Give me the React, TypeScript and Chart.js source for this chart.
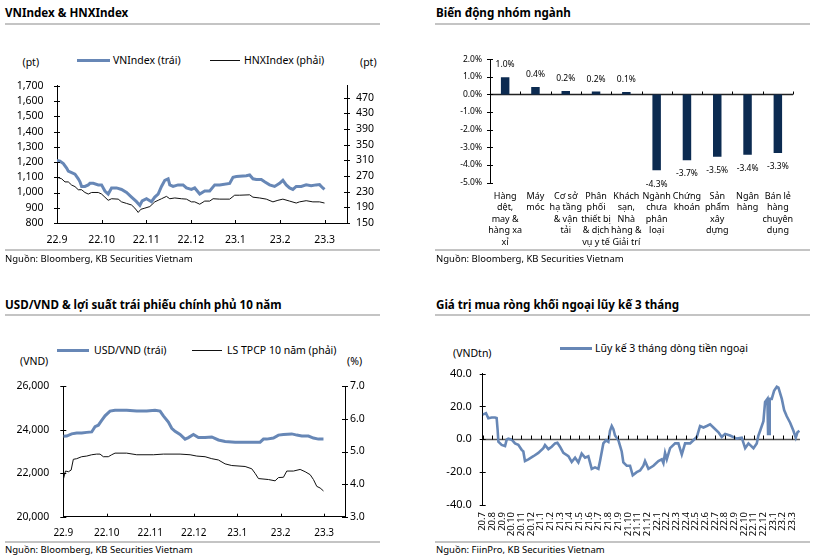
import React, { useEffect, useRef } from 'react';
import { Chart, registerables } from 'chart.js';

Chart.register(...registerables);

const FONT = "'Noto Sans', sans-serif";
const BLUE = '#6787B6';
const NAVY = '#0C2B51';

// ---------- Panel 1: VNIndex & HNXIndex ----------
const P1_MONTHS = ['22.9', '22.10', '22.11', '22.12', '23.1', '23.2', '23.3'];
const P1_LEFT_TICKS = [800, 900, 1000, 1100, 1200, 1300, 1400, 1500, 1600, 1700];
const P1_RIGHT_TICKS = [150, 190, 230, 270, 310, 350, 390, 430, 470];
const VN_T = [0, 0.067, 0.142, 0.216, 0.253, 0.328, 0.403, 0.477, 0.515, 0.552, 0.626, 0.701, 0.738, 0.813, 0.925, 0.999, 1.074, 1.148, 1.223, 1.335, 1.447, 1.559, 1.67, 1.782, 1.857, 1.909, 2.006, 2.118, 2.192, 2.267, 2.342, 2.416, 2.491, 2.528, 2.602, 2.714, 2.826, 2.901, 3.013, 3.087, 3.199, 3.311, 3.423, 3.535, 3.647, 3.87, 3.945, 4.019, 4.243, 4.318, 4.392, 4.467, 4.579, 4.653, 4.765, 4.877, 4.989, 5.063, 5.138, 5.213, 5.287, 5.362, 5.474, 5.585, 5.697, 5.809, 5.884, 5.958, 5.996];
const VN_V = [1210, 1205, 1190, 1160, 1140, 1130, 1120, 1090, 1070, 1040, 1040, 1050, 1060, 1060, 1050, 1050, 1010, 990, 1030, 1030, 1020, 1000, 970, 940, 915, 945, 960, 940, 970, 990, 1040, 1080, 1090, 1050, 1040, 1050, 1050, 1030, 1020, 1030, 990, 1010, 1010, 1050, 1050, 1060, 1100, 1105, 1110, 1115, 1090, 1085, 1085, 1070, 1050, 1040, 1060, 1080, 1050, 1030, 1020, 1040, 1040, 1050, 1045, 1050, 1052, 1030, 1020];
const HNX_T = [0, 0.104, 0.179, 0.253, 0.328, 0.403, 0.477, 0.552, 0.626, 0.701, 0.776, 0.925, 0.999, 1.074, 1.148, 1.223, 1.372, 1.447, 1.559, 1.67, 1.745, 1.82, 1.879, 1.969, 2.081, 2.192, 2.267, 2.342, 2.453, 2.528, 2.64, 2.789, 2.901, 3.013, 3.087, 3.199, 3.311, 3.423, 3.498, 3.647, 3.87, 3.982, 4.094, 4.318, 4.392, 4.541, 4.691, 4.84, 4.952, 5.063, 5.213, 5.362, 5.436, 5.585, 5.735, 5.884, 5.996];
const HNX_V = [267, 263, 255, 255, 247, 243, 235, 235, 228, 224, 228, 228, 224, 216, 208, 212, 211, 204, 200, 196, 188, 177, 185, 188, 192, 204, 208, 212, 218, 212, 214, 212, 211, 204, 204, 198, 206, 206, 212, 211, 211, 221, 221, 222, 216, 214, 211, 204, 208, 211, 206, 201, 204, 207, 204, 204, 201];

// ---------- Panel 2: sector changes ----------
const SECTORS = [
  ['Hàng', 'dệt,', 'may &', 'hàng xa', 'xỉ'],
  ['Máy', 'móc'],
  ['Cơ sở', 'hạ tầng', '& vận', 'tải'],
  ['Phân', 'phối', 'thiết bị', '& dịch', 'vụ y tế'],
  ['Khách', 'sạn,', 'Nhà', 'hàng &', 'Giải trí'],
  ['Ngành', 'chưa', 'phân', 'loại'],
  ['Chứng', 'khoán'],
  ['Sản', 'phẩm', 'xây', 'dựng'],
  ['Ngân', 'hàng'],
  ['Bán lẻ', 'hàng', 'chuyên', 'dụng'],
];
const SECTOR_CHANGE = [0.97, 0.42, 0.19, 0.16, 0.13, -4.3, -3.73, -3.53, -3.42, -3.32];
const P2_TICKS = [-5, -4, -3, -2, -1, 0, 1, 2];

// ---------- Panel 3: USD/VND & 10Y yield ----------
const P3_MONTHS = ['22.9', '22.10', '22.11', '22.12', '23.1', '23.2', '23.3'];
const P3_LEFT_TICKS = [20000, 22000, 24000, 26000];
const P3_RIGHT_TICKS = [3, 4, 5, 6, 7];
const USD_T = [0, 0.078, 0.193, 0.308, 0.423, 0.538, 0.653, 0.73, 0.806, 0.883, 0.96, 1.075, 1.19, 1.458, 1.689, 1.919, 2.11, 2.226, 2.302, 2.417, 2.494, 2.571, 2.686, 2.801, 2.878, 2.993, 3.108, 3.261, 3.415, 3.568, 3.722, 3.952, 4.258, 4.527, 4.604, 4.68, 4.834, 4.949, 5.064, 5.256, 5.371, 5.486, 5.639, 5.754, 5.87, 5.985];
const USD_V = [23700, 23710, 23810, 23855, 23855, 23880, 23900, 24140, 24210, 24430, 24640, 24860, 24900, 24900, 24860, 24860, 24900, 24860, 24640, 24355, 24070, 23930, 23785, 23570, 23640, 23785, 23640, 23640, 23670, 23530, 23460, 23430, 23430, 23430, 23570, 23570, 23620, 23755, 23785, 23810, 23755, 23713, 23713, 23620, 23570, 23570];
const YLD_T = [0, 0.05, 0.12, 0.18, 0.231, 0.308, 0.423, 0.538, 0.653, 0.768, 0.845, 0.921, 1.036, 1.113, 1.19, 1.458, 1.689, 2.072, 2.302, 2.686, 2.916, 3.07, 3.261, 3.415, 3.568, 3.722, 3.875, 4.182, 4.335, 4.412, 4.489, 4.719, 4.872, 4.949, 5.064, 5.141, 5.294, 5.448, 5.563, 5.678, 5.754, 5.831, 5.908, 5.985];
const YLD_V = [4.14, 4.4, 4.38, 4.43, 4.76, 4.78, 4.84, 4.86, 4.9, 4.92, 4.92, 4.84, 4.84, 4.9, 4.95, 4.95, 4.9, 4.9, 4.92, 4.92, 4.9, 4.86, 4.84, 4.78, 4.74, 4.62, 4.57, 4.54, 4.47, 4.33, 4.17, 4.14, 4.1, 4.2, 4.21, 4.4, 4.4, 4.45, 4.38, 4.29, 4.14, 3.93, 3.88, 3.79];

// ---------- Panel 4: foreign net buying (3M cumulative) ----------
const FLOW_MONTHS = ['20.7', '20.8', '20.9', '20.10', '20.11', '20.12', '21.1', '21.2', '21.3', '21.4', '21.5', '21.6', '21.7', '21.8', '21.9', '21.10', '21.11', '21.12', '22.1', '22.2', '22.3', '22.4', '22.5', '22.6', '22.7', '22.8', '22.9', '22.10', '22.11', '22.12', '23.1', '23.2', '23.3'];
const FLOW_TICKS = [-40, -20, 0, 20, 40];
const FLOW_T = [0, 0.34, 0.58, 0.93, 1.27, 1.44, 1.55, 1.62, 1.96, 2.31, 2.48, 2.65, 3.0, 3.34, 3.68, 4.03, 4.2, 4.37, 4.72, 5.24, 5.75, 6.27, 6.44, 6.79, 7.13, 7.48, 7.72, 7.99, 8.34, 8.86, 9.2, 9.55, 9.89, 10.23, 10.58, 10.92, 11.27, 11.61, 11.96, 12.13, 12.47, 12.75, 12.99, 13.16, 13.34, 13.51, 13.68, 14.03, 14.37, 14.54, 14.89, 15.23, 15.51, 15.92, 16.27, 16.61, 16.78, 17.13, 17.65, 18.16, 18.51, 18.68, 18.85, 19.03, 19.37, 19.89, 20.23, 20.58, 20.92, 21.44, 21.78, 22.13, 22.47, 22.82, 23.16, 23.51, 23.85, 24.37, 24.71, 25.06, 25.57, 26.26, 26.78, 27.13, 27.47, 27.99, 28.33, 28.5, 28.68, 29.02, 29.19, 29.43, 29.5, 29.6, 29.67, 29.88, 30.12, 30.4, 30.57, 30.92, 31.16, 31.43, 31.78, 32.12, 32.36, 32.54, 32.74];
const FLOW_V = [15.0, 15.9, 12.8, 13.3, 13.3, 13.0, 5.2, -1.5, -3.4, -4.1, -0.2, 0.4, -0.2, -2.5, -3.4, -6.4, -7.4, -13.2, -12.2, -10.3, -8.3, -5.4, -3.5, -6.0, -4.5, -2.5, -2.1, -4.5, -8.3, -10.3, -13.8, -11.2, -14.1, -8.7, -11.2, -10.3, -18.0, -17.1, -18.0, -13.2, -2.5, -0.6, -1.5, 5.2, 8.1, 6.2, 2.3, -0.6, -7.4, -14.1, -16.1, -16.1, -21.9, -20.0, -19.0, -16.1, -13.2, -18.0, -16.1, -13.2, -12.2, -14.5, -8.3, -12.2, -5.4, -2.5, -2.5, -9.3, -2.5, -2.5, -0.6, 1.4, 8.1, 7.2, 8.1, 9.1, 7.2, 4.3, 1.4, 3.3, 2.3, 0.4, 1.0, -5.4, -2.5, -5.4, -2.5, 2.3, 5.2, 11.0, 22.7, 24.6, 3.3, 3.3, 24.6, 24.6, 29.5, 32.0, 31.4, 24.6, 17.8, 14.0, 10.1, 5.2, 1.0, 4.3, 5.2];

// ---------- helpers ----------
const pts = (t: number[], v: number[]) => t.map((x, i) => ({ x, y: v[i] }));
const fmtThousands = (v: number) => Math.round(v).toLocaleString('en-US');

type Mark = { id: string; a: number; b: number; zero?: string; bounds?: boolean };

function marksPlugin(list: Mark[], zeroLine?: { id: string; color: string; width: number }) {
  return {
    id: 'marks',
    beforeDatasetsDraw(chart: any) {
      if (!zeroLine) return;
      const ys = chart.scales[zeroLine.id];
      const y = Math.round(ys.getPixelForValue(0)) + 0.5;
      const ctx = chart.ctx;
      ctx.save();
      ctx.strokeStyle = zeroLine.color;
      ctx.lineWidth = zeroLine.width;
      ctx.beginPath();
      ctx.moveTo(chart.chartArea.left, y);
      ctx.lineTo(chart.chartArea.right, y);
      ctx.stroke();
      ctx.restore();
    },
    afterDraw(chart: any) {
      const ctx = chart.ctx;
      ctx.save();
      ctx.strokeStyle = '#000';
      ctx.lineWidth = 1;
      for (const m of list) {
        const s = chart.scales[m.id];
        let pos: number[];
        if (m.bounds) {
          pos = [];
          for (let i = 0; i <= s.ticks.length; i++) pos.push(s.getPixelForValue(i - 0.5));
        } else {
          pos = s.ticks.map((t: any) => s.getPixelForValue(t.value));
        }
        ctx.beginPath();
        if (s.isHorizontal()) {
          const y = m.zero ? Math.round(chart.scales[m.zero].getPixelForValue(0)) + 0.5 : s.top;
          for (const p of pos) {
            const x = Math.round(p) + 0.5;
            ctx.moveTo(x, y - m.a);
            ctx.lineTo(x, y + m.b);
          }
        } else {
          const x = s.position === 'left' ? s.right : s.left;
          for (const p of pos) {
            const y = Math.round(p) + 0.5;
            ctx.moveTo(x - m.a, y);
            ctx.lineTo(x + m.b, y);
          }
        }
        ctx.stroke();
      }
      ctx.restore();
    },
  };
}

function yAxis(pos: string, min: number, max: number, ticks: number[], size: number, padding: number, width: number, fmt: (v: number) => string) {
  return {
    type: 'linear',
    position: pos,
    min,
    max,
    afterBuildTicks: (s: any) => { s.ticks = ticks.map((v) => ({ value: v })); },
    afterFit: (s: any) => { s.width = width; },
    grid: { display: false, drawTicks: false, tickLength: 0 },
    border: { display: true, color: '#000', width: 1 },
    ticks: { font: { family: FONT, size }, color: '#000', padding, autoSkip: false, callback: (v: number) => fmt(v) },
  };
}

function xMonths(labels: string[], max: number, height: number, size: number, padding: number, rotate: boolean, border: boolean) {
  return {
    type: 'linear',
    min: 0,
    max,
    afterBuildTicks: (s: any) => { s.ticks = labels.map((_, i) => ({ value: i })); },
    afterFit: (s: any) => { s.height = height; },
    grid: { display: false, drawTicks: false, tickLength: 0 },
    border: { display: border, color: '#000', width: 1 },
    ticks: {
      font: { family: FONT, size },
      color: '#000',
      padding,
      autoSkip: false,
      minRotation: rotate ? 90 : 0,
      maxRotation: rotate ? 90 : 0,
      callback: (v: number) => labels[Math.round(v)] ?? '',
    },
  };
}

function config1(): any {
  return {
    type: 'line',
    data: {
      datasets: [
        { data: pts(VN_T, VN_V), borderColor: BLUE, borderWidth: 3, yAxisID: 'y', pointRadius: 0 },
        { data: pts(HNX_T, HNX_V), borderColor: '#111', borderWidth: 1, yAxisID: 'y1', pointRadius: 0 },
      ],
    },
    options: {
      animation: false,
      responsive: false,
      devicePixelRatio: 1,
      layout: { padding: { top: 8, right: 0, bottom: 0, left: 0 } },
      plugins: { legend: { display: false }, tooltip: { enabled: false } },
      scales: {
        x: xMonths(P1_MONTHS, 6.5, 27, 10.5, 10.5, false, true),
        y: yAxis('left', 800, 1700, P1_LEFT_TICKS, 10.5, 13.5, 57, fmtThousands),
        y1: yAxis('right', 150, 500.6, P1_RIGHT_TICKS, 10.5, 9, 43, (v) => String(v)),
      },
    },
    plugins: [marksPlugin([
      { id: 'y', a: 3, b: 3 },
      { id: 'y1', a: 3, b: 3 },
      { id: 'x', a: 3, b: 0 },
    ])],
  };
}

const barLabels = {
  id: 'barLabels',
  afterDatasetsDraw(chart: any) {
    const ctx = chart.ctx;
    const meta = chart.getDatasetMeta(0);
    ctx.save();
    ctx.font = `8.5px ${FONT}`;
    ctx.fillStyle = '#000';
    ctx.textAlign = 'center';
    ctx.textBaseline = 'middle';
    meta.data.forEach((bar: any, i: number) => {
      const v = SECTOR_CHANGE[i];
      const y = v >= 0 ? bar.y - 12.5 : bar.y + 13.8;
      ctx.fillText(v.toFixed(1) + '%', bar.x, y);
    });
    ctx.restore();
  },
};

function config2(): any {
  return {
    type: 'bar',
    data: {
      labels: SECTORS,
      datasets: [{ data: SECTOR_CHANGE, backgroundColor: NAVY, categoryPercentage: 1, barPercentage: 0.28 }],
    },
    options: {
      animation: false,
      responsive: false,
      devicePixelRatio: 1,
      layout: { padding: { top: 10, right: 22, bottom: 0, left: 0 } },
      plugins: { legend: { display: false }, tooltip: { enabled: false } },
      scales: {
        x: {
          type: 'category',
          offset: true,
          afterFit: (s: any) => { s.height = 67.3; },
          grid: { display: false, drawTicks: false, tickLength: 0 },
          border: { display: false },
          ticks: { font: { family: FONT, size: 9, lineHeight: '11.5px' }, color: '#000', padding: 7.5, autoSkip: false, maxRotation: 0, minRotation: 0 },
        },
        y: yAxis('left', -5, 2, P2_TICKS, 8.5, 8, 70, (v) => v.toFixed(1) + '%'),
      },
    },
    plugins: [
      marksPlugin([
        { id: 'y', a: 3, b: 3 },
        { id: 'x', a: 3, b: 0, zero: 'y', bounds: true },
      ], { id: 'y', color: '#222', width: 1.5 }),
      barLabels,
    ],
  };
}

function config3(): any {
  return {
    type: 'line',
    data: {
      datasets: [
        { data: pts(USD_T, USD_V), borderColor: BLUE, borderWidth: 3, yAxisID: 'y', pointRadius: 0 },
        { data: pts(YLD_T, YLD_V), borderColor: '#111', borderWidth: 1, yAxisID: 'y1', pointRadius: 0 },
      ],
    },
    options: {
      animation: false,
      responsive: false,
      devicePixelRatio: 1,
      layout: { padding: { top: 10.7, right: 0, bottom: 0, left: 0 } },
      plugins: { legend: { display: false }, tooltip: { enabled: false } },
      scales: {
        x: xMonths(P3_MONTHS, 6.48, 24.3, 10, 10.3, false, true),
        y: yAxis('left', 20000, 26000, P3_LEFT_TICKS, 10.5, 14, 63.3, fmtThousands),
        y1: yAxis('right', 3, 7, P3_RIGHT_TICKS, 10.5, 5, 45, (v) => v.toFixed(1)),
      },
    },
    plugins: [marksPlugin([
      { id: 'y', a: 3, b: 3 },
      { id: 'y1', a: 3, b: 3 },
      { id: 'x', a: 3, b: 0 },
    ])],
  };
}

function config4(): any {
  return {
    type: 'line',
    data: {
      datasets: [
        { data: pts(FLOW_T, FLOW_V), borderColor: BLUE, borderWidth: 2.6, yAxisID: 'y', pointRadius: 0 },
      ],
    },
    options: {
      animation: false,
      responsive: false,
      devicePixelRatio: 1,
      layout: { padding: { top: 11.3, right: 15, bottom: 0, left: 0 } },
      plugins: { legend: { display: false }, tooltip: { enabled: false } },
      scales: {
        x: xMonths(FLOW_MONTHS, 32.8, 36, 9.5, 7, true, false),
        y: yAxis('left', -40, 40, FLOW_TICKS, 11, 11, 62.7, (v) => v.toFixed(1)),
      },
    },
    plugins: [marksPlugin([
      { id: 'y', a: 3, b: 3 },
      { id: 'x', a: 4, b: 0, zero: 'y' },
    ], { id: 'y', color: '#555', width: 1.5 })],
  };
}

function ChartCanvas({ x, y, w, h, make }: { x: number; y: number; w: number; h: number; make: () => any }) {
  const ref = useRef<HTMLCanvasElement>(null);
  useEffect(() => {
    const chart = new Chart(ref.current as HTMLCanvasElement, make());
    return () => chart.destroy();
  }, []);
  return <canvas ref={ref} width={w} height={h} style={{ position: 'absolute', left: x, top: y, width: w, height: h }} />;
}

function Txt({ x, cy, size, bold, children, lh = 16 }: { x: number; cy: number; size: number; bold?: boolean; children: React.ReactNode; lh?: number }) {
  return (
    <div style={{ position: 'absolute', left: x, top: cy - lh / 2, lineHeight: lh + 'px', height: lh, fontSize: size, fontWeight: bold ? 700 : 400, fontFamily: FONT, whiteSpace: 'nowrap', color: '#000' }}>
      {children}
    </div>
  );
}

function HLine({ x, y, w, h, color }: { x: number; y: number; w: number; h: number; color: string }) {
  return <div style={{ position: 'absolute', left: x, top: y, width: w, height: h, background: color }} />;
}

const SEP = '#c4c4c4';

export default function App() {
  return (
    <div style={{ position: 'absolute', left: 0, top: 0, width: 821, height: 559, background: '#fff', overflow: 'hidden' }}>
      {/* Panel 1 */}
      <Txt x={5} cy={12.5} size={11.6} bold>VNIndex &amp; HNXIndex</Txt>
      <HLine x={5} y={23} w={375} h={2} color={SEP} />
      <HLine x={77} y={58.5} w={33} h={3} color={BLUE} />
      <Txt x={113} cy={60} size={10.5}>VNIndex (trái)</Txt>
      <HLine x={210} y={59.5} w={30} h={1} color="#111" />
      <Txt x={244} cy={60} size={10.5}>HNXIndex (phải)</Txt>
      <Txt x={22.5} cy={62} size={10.5}>(pt)</Txt>
      <Txt x={360} cy={62} size={10.5}>(pt)</Txt>
      <ChartCanvas x={0} y={66} w={390} h={184} make={config1} />
      <HLine x={5} y={249} w={375} h={2} color={SEP} />
      <Txt x={5} cy={258.5} size={9.5}>Nguồn: Bloomberg, KB Securities Vietnam</Txt>

      {/* Panel 2 */}
      <Txt x={436} cy={12.5} size={11.6} bold>Biến động nhóm ngành</Txt>
      <HLine x={435} y={23} w={375} h={2} color={SEP} />
      <ChartCanvas x={420} y={46} w={395} h={204} make={config2} />
      <HLine x={435} y={249} w={375} h={2} color={SEP} />
      <Txt x={436} cy={258.5} size={9.5}>Nguồn: Bloomberg, KB Securities Vietnam</Txt>

      {/* Panel 3 */}
      <Txt x={5} cy={305} size={11.6} bold>USD/VND &amp; lợi suất trái phiếu chính phủ 10 năm</Txt>
      <HLine x={5} y={314} w={375} h={2} color={SEP} />
      <HLine x={57} y={348.5} w={32} h={3} color={BLUE} />
      <Txt x={94} cy={350} size={10.5}>USD/VND (trái)</Txt>
      <HLine x={192} y={349.5} w={30} h={1} color="#111" />
      <Txt x={227} cy={350} size={10.5}>LS TPCP 10 năm (phải)</Txt>
      <Txt x={20} cy={361} size={10.5}>(VND)</Txt>
      <Txt x={347} cy={361} size={10.5}>(%)</Txt>
      <ChartCanvas x={0} y={366} w={390} h={175} make={config3} />
      <HLine x={5} y={540.5} w={375} h={2} color={SEP} />
      <Txt x={5} cy={550} size={9.5}>Nguồn: Bloomberg, KB Securities Vietnam</Txt>

      {/* Panel 4 */}
      <Txt x={436} cy={305} size={11.6} bold>Giá trị mua ròng khối ngoại lũy kế 3 tháng</Txt>
      <HLine x={435} y={314} w={375} h={2} color={SEP} />
      <HLine x={560} y={346.5} w={32} h={3} color={BLUE} />
      <Txt x={595} cy={348} size={10.5}>Lũy kế 3 tháng dòng tiền ngoại</Txt>
      <Txt x={453} cy={353} size={10.5}>(VNDtn)</Txt>
      <ChartCanvas x={420} y={356} w={395} h={185} make={config4} />
      <HLine x={435} y={540.5} w={375} h={2} color={SEP} />
      <Txt x={436} cy={550} size={9.5}>Nguồn: FiinPro, KB Securities Vietnam</Txt>
    </div>
  );
}
